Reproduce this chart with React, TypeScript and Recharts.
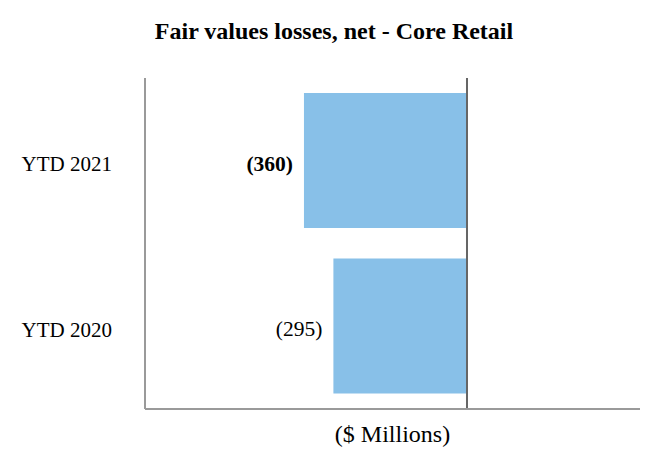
import React from "react";
import { BarChart, Bar, XAxis, YAxis, ReferenceLine, LabelList, Label } from "recharts";

const categories = ["YTD 2021", "YTD 2020"];
const values = [-360, -295];
const boldLabels = [true, false];

const data = categories.map((name, i) => ({ name, value: values[i], bold: boldLabels[i] }));

const FONT = "'Times New Roman', 'Liberation Serif', serif";

const BarLabel = (props: any) => {
  const { x, y, width, height, value, index } = props;
  const left = Math.min(x, x + width);
  const bold = data[index]?.bold;
  return (
    <text
      x={left - 11}
      y={y + height / 2}
      dy={10}
      textAnchor="end"
      fontFamily={FONT}
      fontSize={21.5}
      fontWeight={bold ? "bold" : "normal"}
      fill="#000"
    >
      {`(${Math.abs(value)})`}
    </text>
  );
};

export default function App() {
  return (
    <div style={{ position: "absolute", left: 0, top: 0, width: 666, height: 466, background: "#fff" }}>
      <div
        style={{
          position: "absolute",
          left: 0,
          width: 668,
          top: 18,
          textAlign: "center",
          fontFamily: FONT,
          fontWeight: "bold",
          fontSize: 24,
          color: "#000",
          whiteSpace: "nowrap",
        }}
      >
        Fair values losses, net - Core Retail
      </div>
      <BarChart
        width={666}
        height={466}
        data={data}
        layout="vertical"
        margin={{ top: 78, right: 26, bottom: 0, left: 0 }}
      >
        <XAxis
          type="number"
          domain={[-711, 382]}
          tick={false}
          tickLine={false}
          height={57}
          axisLine={{ stroke: "#9a9a9a", strokeWidth: 2 }}
        >
          <Label
            value="($ Millions)"
            position="insideTop"
            offset={16}
            style={{ fontFamily: FONT, fontSize: 24, fill: "#000" }}
          />
        </XAxis>
        <YAxis
          type="category"
          dataKey="name"
          width={145}
          tickLine={false}
          tickSize={0}
          tickMargin={33}
          axisLine={{ stroke: "#9a9a9a", strokeWidth: 2 }}
          tick={{ fontFamily: FONT, fontSize: 21, fill: "#000", dy: 3 }}
        />
        <Bar dataKey="value" fill="#88C0E8" barSize={135} isAnimationActive={false}>
          <LabelList dataKey="value" content={BarLabel} />
        </Bar>
        <ReferenceLine x={0} stroke="#666" strokeWidth={2} />
      </BarChart>
    </div>
  );
}
